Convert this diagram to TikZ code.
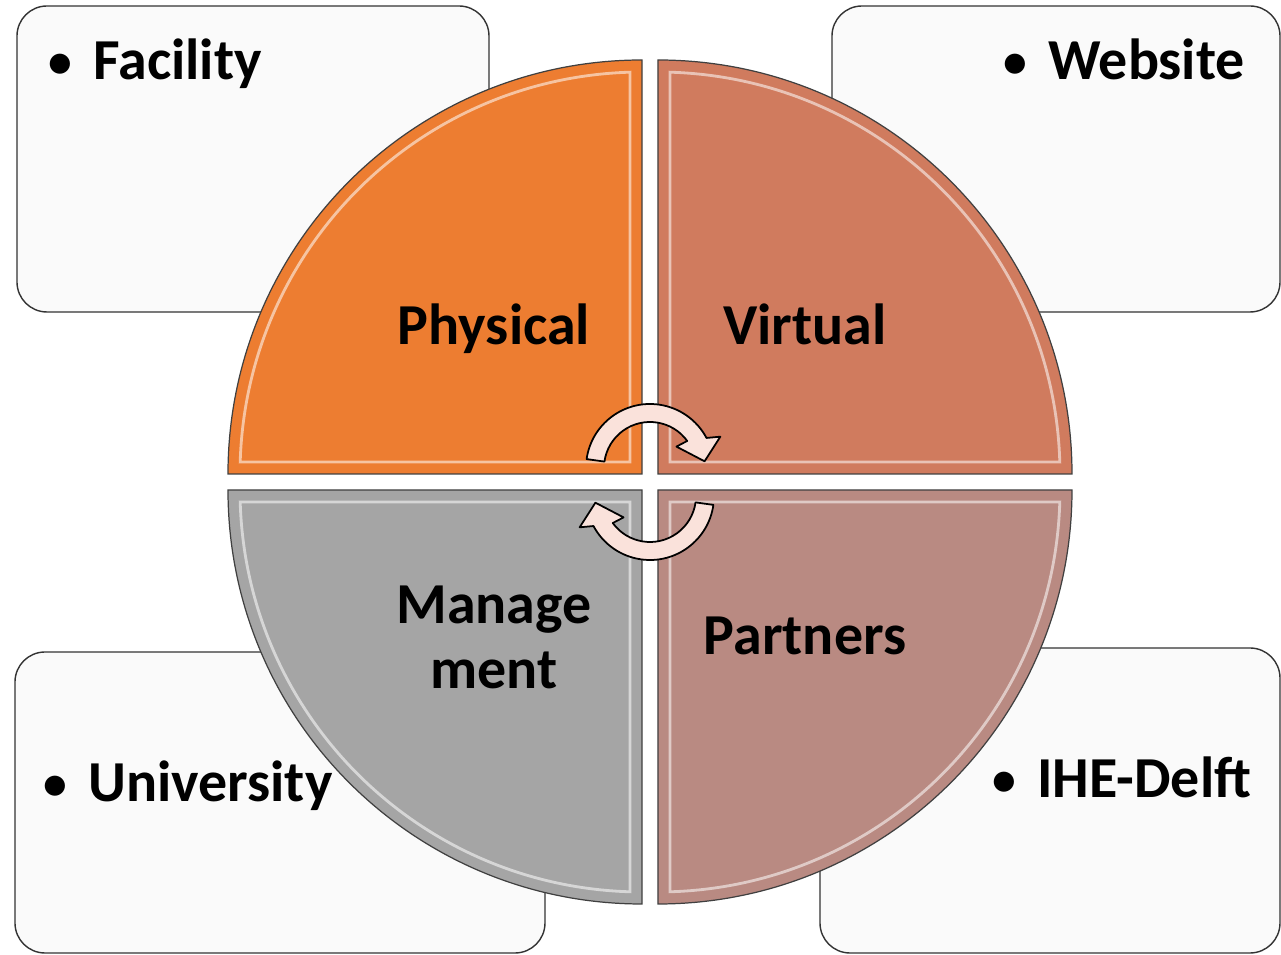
\documentclass[tikz,border=0pt]{standalone}
\usepackage{fontspec}
\setmainfont{Carlito}
\usepackage{tikz}

\definecolor{physfill}{RGB}{237,125,49}
\definecolor{virtfill}{RGB}{208,123,94}
\definecolor{mgmtfill}{RGB}{165,165,165}
\definecolor{partfill}{RGB}{185,138,130}
\definecolor{boxfill}{RGB}{250,250,250}
\definecolor{arrowfill}{RGB}{250,226,219}
\newcommand{\itembullet}{\makebox[0.9cm][l]{\raisebox{1.5pt}{\scalebox{0.82}{\textbullet}}}}

\begin{document}
\begin{tikzpicture}[x=0.02cm,y=0.02cm,
	infobox/.style={draw=black!80,fill=boxfill,line width=0.8pt,rounded corners=0.6cm},
	quarter/.style={draw=black!75,line width=0.7pt},
	shine/.style={draw=white,draw opacity=0.55,line width=1.6pt},
	itemtext/.style={font=\fontsize{33}{37}\selectfont\bfseries,inner sep=0pt,anchor=base west},
	parttext/.style={font=\fontsize{33}{37}\selectfont\bfseries,inner sep=0pt},
	cycarrow/.style={draw=black,fill=arrowfill,line width=1pt,line join=round}]
			\useasboundingbox (-650,-473) rectangle (631,482);
			% boxes behind the circle
			\draw[infobox] (-633,170) rectangle (-161,476);
			\draw[infobox] (182,170) rectangle (630,476);
			\draw[infobox] (-635,-471) rectangle (-105,-170);
			\draw[infobox] (170,-471) rectangle (630,-166);
			% four quarters
			\foreach \a/\col in {180/physfill,90/virtfill,0/partfill,-90/mgmtfill}{
				\begin{scope}[shift={(\a-45:11.31)},rotate=\a-180]
					\draw[quarter,fill=\col] (0,0) -- (180:414) arc (180:90:414) -- cycle;
					\draw[shine] (-12,12) -- (178.3:402) arc (178.3:91.7:402) -- cycle;
				\end{scope}
			}
			% turning arrows
			\foreach \r in {0,180}{
				\begin{scope}[rotate=\r,shift={(0,14)}]
					\draw[cycarrow] (172:64) arc (172:28:64) -- (24:77) -- (7:55) -- (39:34) -- (36:46) arc (36:172:46) -- cycle;
				\end{scope}
			}
			\node[parttext,anchor=base] (physical) at (-156,137) {Physical};
			\node[parttext,anchor=base] (virtual) at (155,137) {Virtual};
			\node[parttext,anchor=north,align=center] (management) at (-156,-104) {Manage\\ment};
			\node[parttext,anchor=base] (partners) at (155,-173) {Partners};
			\node[itemtext] (facility) at (-602,402) {\itembullet Facility};
			\node[itemtext] (website) at (353,402) {\itembullet Website};
			\node[itemtext] (university) at (-607,-320) {\itembullet University};
			\node[itemtext] (ihedelft) at (342,-316) {\itembullet IHE-Delft};
		\end{tikzpicture}
\end{document}
